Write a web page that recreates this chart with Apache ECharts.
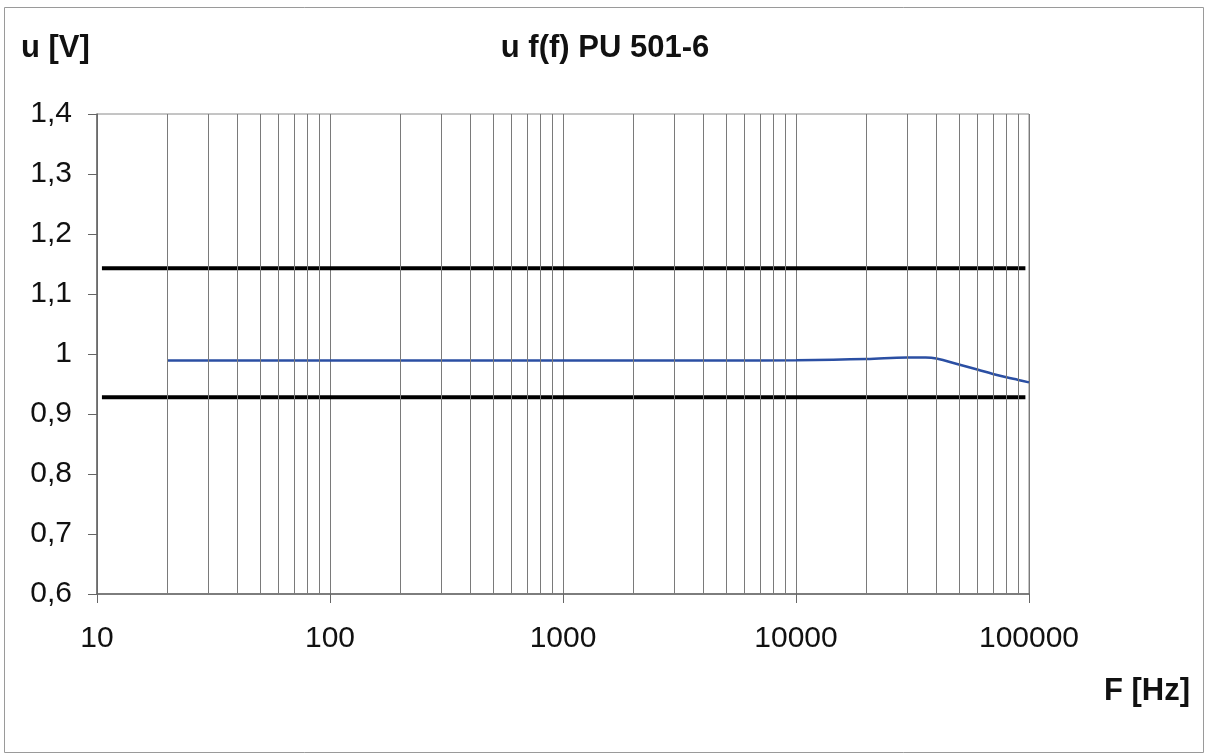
<!DOCTYPE html>
<html>
<head>
<meta charset="utf-8">
<title>u f(f) PU 501-6</title>
<script src="https://cdn.jsdelivr.net/npm/echarts@6/dist/echarts.min.js"></script>
<style>
  html, body { margin: 0; padding: 0; background: #fff; }
  #chart { width: 1207px; height: 755px; }
</style>
</head>
<body>
<div id="chart"></div>
<script>
// Measured response u(f) of PU 501-6
const freqHz = [20, 50, 100, 200, 500, 1000, 2000, 5000, 10000, 20000, 30000, 36000, 40000, 50000, 60000, 70000, 80000, 90000, 100000];
const voltage = [0.989, 0.989, 0.989, 0.989, 0.989, 0.989, 0.989, 0.989, 0.9895, 0.9915, 0.9942, 0.9942, 0.9925, 0.9825, 0.9742, 0.9668, 0.9612, 0.9568, 0.9527];

// Tolerance limits
const limitFreq = [10.5, 96500];
const upperLimit = [1.143, 1.143];
const lowerLimit = [0.928, 0.928];

// Axis ticks
const yTickValues = [0.6, 0.7, 0.8, 0.9, 1.0, 1.1, 1.2, 1.3, 1.4];
const yTickLabels = ['0,6', '0,7', '0,8', '0,9', '1', '1,1', '1,2', '1,3', '1,4'];
const xTickLabels = ['10', '100', '1000', '10000', '100000'];
// Intermediate log grid lines (2..9 in each decade)
const minorGridFreq = [];
[10, 100, 1000, 10000].forEach(d => { for (let k = 2; k <= 9; k++) minorGridFreq.push(d * k); });

const font = '"Liberation Sans", Arial, sans-serif';
const chart = echarts.init(document.getElementById('chart'), null, { renderer: 'canvas' });

const pairs = (xs, ys) => xs.map((x, i) => [x, ys[i]]);

chart.setOption({
  backgroundColor: '#ffffff',
  animation: false,
  textStyle: { fontFamily: font },
  title: {
    text: 'u f(f) PU 501-6',
    left: 600, top: 28, textAlign: 'center',
    textStyle: { fontFamily: font, fontSize: 31, fontWeight: 'bold', color: '#111' }
  },
  graphic: [
    { type: 'rect', shape: { x: 4.5, y: 7.5, width: 1199, height: 745 },
      style: { fill: 'none', stroke: '#9a9a9a', lineWidth: 1 }, silent: true, z: -10 },
    { type: 'text', left: 21, top: 33,
      style: { text: 'u [V]', fontFamily: font, fontSize: 31, fontWeight: 'bold', fill: '#111' } },
    { type: 'text', right: 17, top: 676,
      style: { text: 'F [Hz]', fontFamily: font, fontSize: 31, fontWeight: 'bold', fill: '#111' } }
  ],
  grid: {
    left: 97, top: 114, right: 178, bottom: 161,
    show: true, borderColor: '#8a8a8a', borderWidth: 1, backgroundColor: '#fff'
  },
  xAxis: {
    type: 'log', logBase: 10, min: 10, max: 100000,
    axisLine: { show: true, lineStyle: { color: '#666', width: 1.5 } },
    axisTick: { show: true, inside: false, length: 9, lineStyle: { color: '#666' } },
    axisLabel: {
      margin: 30, fontSize: 30, color: '#111', fontFamily: font,
      formatter: v => { const i = Math.round(Math.log10(v)) - 1; return xTickLabels[i] ?? ''; }
    },
    splitLine: { show: true, lineStyle: { color: '#7a7a7a', width: 1 } }
  },
  yAxis: {
    type: 'value', min: 0.6, max: 1.4, interval: 0.1,
    axisLine: { show: true, lineStyle: { color: '#666', width: 1.5 } },
    axisTick: { show: true, inside: false, length: 9, lineStyle: { color: '#666' } },
    axisLabel: {
      margin: 25, fontSize: 30, color: '#111', fontFamily: font,
      formatter: v => {
        const i = yTickValues.findIndex(t => Math.abs(t - v) < 1e-6);
        return i >= 0 ? yTickLabels[i] : '';
      }
    },
    splitLine: { show: false }
  },
  series: [
    {
      type: 'line', name: 'grid', data: [], silent: true, z: 1,
      markLine: {
        silent: true, symbol: 'none', animation: false,
        label: { show: false },
        lineStyle: { color: '#7a7a7a', width: 1, type: 'solid' },
        data: minorGridFreq.map(f => ({ xAxis: f }))
      }
    },
    {
      type: 'line', name: 'upper', data: pairs(limitFreq, upperLimit),
      showSymbol: false, symbol: 'none', z: 3,
      lineStyle: { color: '#000', width: 4 }
    },
    {
      type: 'line', name: 'lower', data: pairs(limitFreq, lowerLimit),
      showSymbol: false, symbol: 'none', z: 3,
      lineStyle: { color: '#000', width: 4 }
    },
    {
      type: 'line', name: 'u', data: pairs(freqHz, voltage),
      showSymbol: false, symbol: 'none', smooth: 0.4, z: 4,
      lineStyle: { color: '#2b4fa3', width: 2.5 }
    }
  ]
});
</script>
</body>
</html>
